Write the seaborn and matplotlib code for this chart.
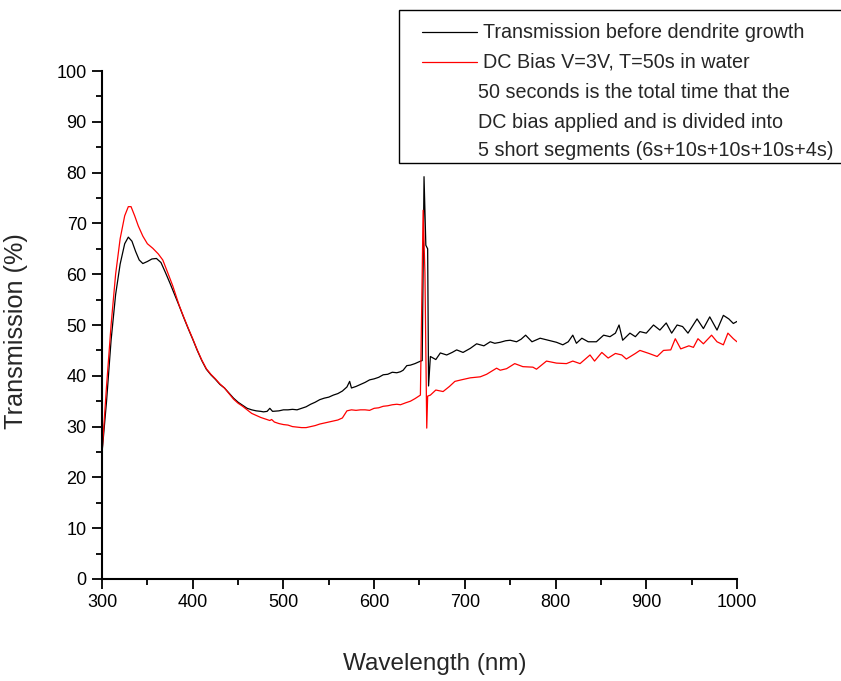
import numpy as np
import pandas as pd
import seaborn as sns
import matplotlib
matplotlib.use("Agg")
import matplotlib.pyplot as plt
from matplotlib.lines import Line2D
from matplotlib.patches import Rectangle
from matplotlib.ticker import MultipleLocator

# Transmission spectrum before dendrite growth
wl_before = [300, 305, 310, 315, 320, 325, 329, 333, 337, 341, 345, 350, 355, 360, 365,
             370, 375, 380, 385, 390, 395, 400, 405, 410, 415, 420, 425, 430, 435, 440,
             445, 450, 455, 460, 465, 470, 475, 478, 482, 485, 488, 495, 500, 505, 510,
             515, 520, 525, 530, 535, 540, 545, 550, 555, 560, 565, 570, 573, 575, 580,
             585, 590, 595, 600, 605, 610, 615, 620, 625, 629, 632, 636, 640, 645, 650,
             653, 655, 657, 659, 660, 662, 665, 668, 673, 680, 686, 691, 698, 706, 713,
             721, 728, 733, 739, 745, 750, 757, 762, 767, 774, 779, 783, 792, 801, 808,
             814, 819, 823, 829, 836, 845, 853, 860, 866, 870, 874, 882, 888, 893, 900,
             908, 915, 922, 928, 934, 940, 946, 956, 963, 970, 978, 985, 991, 996, 1000]
t_before = [24.8, 35.0, 47.0, 56.0, 62.0, 66.0, 67.3, 66.5, 64.5, 62.8, 62.1, 62.5, 63.0, 63.1, 62.3,
            60.3, 58.2, 56.0, 53.8, 51.5, 49.3, 47.2, 45.0, 43.0, 41.3, 40.2, 39.3, 38.3, 37.6, 36.6,
            35.6, 34.8, 34.2, 33.6, 33.3, 33.1, 33.0, 32.9, 33.0, 33.6, 33.0, 33.1, 33.3, 33.3, 33.4,
            33.3, 33.6, 33.9, 34.4, 34.8, 35.3, 35.6, 35.8, 36.2, 36.5, 37.0, 37.8, 38.9, 37.6, 37.9,
            38.3, 38.7, 39.2, 39.4, 39.7, 40.2, 40.3, 40.7, 40.6, 40.8, 41.1, 42.0, 42.1, 42.4, 42.8,
            43.0, 79.2, 65.7, 65.0, 38.0, 43.8, 43.5, 43.2, 44.5, 44.1, 44.6, 45.1, 44.6, 45.4, 46.3,
            45.9, 46.7, 46.4, 46.6, 46.9, 47.0, 46.7, 47.2, 48.0, 46.7, 47.1, 47.4, 47.0, 46.6, 46.1,
            46.7, 48.0, 46.4, 47.4, 46.7, 46.7, 48.0, 47.7, 48.4, 50.0, 47.0, 48.4, 47.7, 48.7, 48.4,
            50.0, 49.0, 50.4, 48.4, 50.0, 49.7, 48.4, 51.2, 49.3, 51.6, 49.0, 51.9, 51.2, 50.3, 50.7]

# Transmission spectrum after DC bias (3 V, 50 s in water)
wl_bias = [300, 305, 310, 315, 320, 325, 329, 332, 336, 340, 345, 350, 356, 362, 367,
           372, 378, 385, 390, 395, 400, 405, 410, 415, 420, 425, 430, 435, 440, 445,
           450, 455, 460, 465, 470, 475, 480, 485, 487, 490, 495, 500, 505, 510, 515,
           520, 525, 530, 535, 540, 545, 550, 555, 560, 565, 570, 575, 580, 585, 590,
           595, 600, 605, 610, 615, 620, 625, 629, 635, 640, 645, 651, 654, 656, 658,
           659, 662, 668, 676, 683, 689, 696, 706, 717, 724, 735, 739, 746, 755, 764,
           775, 779, 790, 801, 812, 819, 827, 838, 843, 851, 858, 866, 873, 878, 888,
           893, 903, 912, 919, 927, 932, 938, 947, 952, 957, 963, 972, 978, 985, 990,
           996, 1000]
t_bias = [24.8, 38.0, 50.0, 60.0, 67.0, 71.5, 73.3, 73.3, 71.5, 69.5, 67.5, 66.0, 65.1, 64.0, 62.8,
          60.5, 57.7, 53.9, 51.6, 49.4, 47.3, 45.1, 43.1, 41.4, 40.3, 39.4, 38.4, 37.6, 36.5, 35.4,
          34.6, 34.0, 33.3, 32.6, 32.2, 31.8, 31.5, 31.2, 31.4, 30.9, 30.6, 30.4, 30.3, 30.0, 29.9,
          29.8, 29.8, 30.0, 30.2, 30.5, 30.7, 30.9, 31.1, 31.3, 31.7, 33.1, 33.3, 33.2, 33.3, 33.3,
          33.2, 33.6, 33.7, 34.0, 34.1, 34.3, 34.4, 34.3, 34.7, 35.0, 35.5, 36.2, 72.6, 60.2, 29.7,
          36.0, 36.2, 37.2, 36.9, 37.9, 38.9, 39.2, 39.6, 39.8, 40.3, 41.5, 41.1, 41.4, 42.4, 41.8,
          41.7, 41.3, 42.9, 42.5, 42.4, 42.9, 42.4, 44.1, 42.9, 44.6, 43.5, 44.4, 44.1, 43.3, 44.4,
          45.0, 44.4, 43.8, 45.0, 45.1, 47.3, 45.3, 45.9, 45.6, 47.3, 46.3, 48.0, 46.7, 46.1, 48.4,
          47.3, 46.7]

legend_labels = [
    "Transmission before dendrite growth",
    "DC Bias V=3V, T=50s in water",
    "50 seconds is the total time that the",
    "DC bias applied and is divided into",
    "5 short segments (6s+10s+10s+10s+4s)",
]
series_colors = ["black", "red"]

sns.set_style("ticks")
plt.rcParams["font.family"] = ["Liberation Sans", "DejaVu Sans"]

W, H = 841, 681
fig = plt.figure(figsize=(W / 100, H / 100), dpi=100)
ax = fig.add_axes([0.1213, 0.1498, 0.7550, 0.7459])

df_before = pd.DataFrame({"wl": wl_before, "t": t_before})
df_bias = pd.DataFrame({"wl": wl_bias, "t": t_bias})
sns.lineplot(data=df_before, x="wl", y="t", ax=ax, color=series_colors[0], lw=0.9,
             sort=False, estimator=None)
sns.lineplot(data=df_bias, x="wl", y="t", ax=ax, color=series_colors[1], lw=0.9,
             sort=False, estimator=None)

ax.set_xlim(300, 1000)
ax.set_ylim(0, 100)
ax.xaxis.set_major_locator(MultipleLocator(100))
ax.xaxis.set_minor_locator(MultipleLocator(50))
ax.yaxis.set_major_locator(MultipleLocator(10))
ax.yaxis.set_minor_locator(MultipleLocator(5))
ax.tick_params(which="major", direction="out", length=7, width=1.3,
               labelsize=13, color="black", labelcolor="black", pad=4)
ax.tick_params(which="minor", direction="out", length=4, width=1.3, color="black")
for side in ("top", "right"):
    ax.spines[side].set_visible(False)
for side in ("left", "bottom"):
    ax.spines[side].set_linewidth(1.5)
    ax.spines[side].set_color("black")

ax.set_xlabel("")
ax.set_ylabel("")
fig.text(435 / W, 1 - 664 / H, "Wavelength (nm)", fontsize=17.5,
         ha="center", va="center")
fig.text(16 / W, 1 - 331 / H, "Transmission (%)", fontsize=18.2,
         ha="center", va="center", rotation=90)

# Legend box with two line samples and a five-line caption
def fx(px):
    return px / W

def fy(py):
    return 1 - py / H

fig.patches.append(Rectangle((fx(399), fy(163)), fx(850) - fx(399), fy(10) - fy(163),
                             transform=fig.transFigure, facecolor="white",
                             edgecolor="black", lw=1.0, zorder=5))
row_y = [32, 62, 92, 122, 151]
for i, label in enumerate(legend_labels):
    if i < len(series_colors):
        fig.lines.append(Line2D([fx(422), fx(477)], [fy(row_y[i]), fy(row_y[i])],
                                transform=fig.transFigure, color=series_colors[i],
                                lw=0.9, zorder=6))
        x0 = 483
    else:
        x0 = 478
    fig.text(fx(x0), fy(row_y[i]), label, fontsize=14.2, ha="left",
             va="center", zorder=7)

fig.savefig("out.png", dpi=100, facecolor="white")
